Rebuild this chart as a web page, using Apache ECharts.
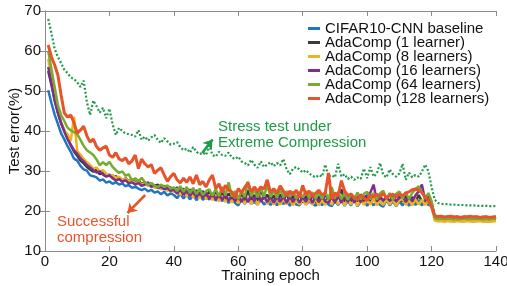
<!DOCTYPE html>
<html>
<head>
<meta charset="utf-8">
<script src="https://cdn.jsdelivr.net/npm/echarts@6/dist/echarts.min.js"></script>
<style>
html,body{margin:0;padding:0;background:#fff;}
#main{width:507px;height:286px;}
</style>
</head>
<body>
<div id="main"></div>
<script>
// test error (%) per training epoch
var baseline = [
50.2,47.0,44.1,41.8,39.4,37.9,36.2,34.8,33.1,32.6,
31.3,30.4,30.1,28.9,28.7,28.4,27.6,27.9,27.1,27.4,
26.8,27.2,26.6,26.9,26.2,26.5,25.8,26.1,25.6,25.2,
25.6,24.9,25.3,24.6,24.9,24.2,24.8,23.9,24.4,24.0,
23.2,24.4,23.1,24.2,22.9,24.0,22.7,23.9,22.8,23.4,
22.9,23.7,22.6,23.5,22.5,23.3,22.0,23.2,22.0,21.4,
23.0,21.8,23.2,21.8,22.3,21.6,22.9,21.6,22.6,21.5,
22.8,21.4,23.0,21.7,22.7,21.3,22.8,21.6,21.4,22.9,
21.7,22.4,21.8,21.3,22.6,21.4,22.8,21.6,21.2,22.6,
21.5,22.7,21.3,22.5,21.4,22.8,21.2,22.4,22.7,21.3,
22.5,21.4,22.6,21.5,21.1,22.7,21.4,22.5,21.2,22.4,
21.4,22.6,21.3,22.4,21.5,22.7,21.4,22.5,21.5,21.5,
18.3,18.0,18.2,17.9,18.1,18.0,17.8,18.1,17.9,18.0,
18.1,17.8,18.0,17.9,18.1,17.8,18.0,17.9,18.0,17.9];

var learner1 = [
55.0,51.5,47.8,44.6,41.9,40.2,38.1,36.4,34.9,33.8,
32.6,31.9,31.0,30.4,29.8,30.3,29.2,29.6,28.8,29.1,
28.3,28.7,28.0,27.6,28.2,27.4,27.9,27.2,27.6,26.8,
27.1,26.5,26.9,26.2,26.6,25.8,26.3,25.5,25.9,25.2,
25.9,24.6,25.6,24.2,25.4,24.0,25.2,23.9,25.0,23.6,
24.8,23.4,24.9,23.2,24.6,23.0,24.4,22.8,24.5,22.7,
24.2,22.6,25.2,22.8,24.0,22.5,25.6,22.9,24.1,22.4,
23.9,22.3,24.2,22.6,24.4,22.2,23.8,22.5,24.3,22.1,
23.7,22.4,24.1,22.0,23.6,22.5,24.4,22.2,23.5,22.0,
23.9,25.4,22.3,23.8,22.1,23.6,22.4,24.2,22.2,23.5,
22.0,23.8,22.3,24.1,21.9,23.5,22.2,24.0,22.1,23.6,
22.3,23.9,22.0,23.5,22.2,24.0,22.4,22.1,23.6,21.9,
18.4,18.2,18.5,18.3,18.4,18.2,18.5,18.3,18.2,18.4,
18.3,18.5,18.2,18.4,18.3,18.2,18.4,18.3,18.2,18.3];

var learners8 = [
58.0,53.2,48.5,45.1,42.3,40.0,39.2,37.5,43.6,35.0,
34.1,33.0,32.2,31.5,30.6,30.9,29.8,30.2,29.3,28.7,
29.0,28.2,28.6,27.8,28.1,27.4,27.8,26.9,27.3,26.6,
26.9,26.2,26.6,25.8,26.1,25.4,25.9,25.0,25.5,24.7,
25.6,24.0,25.2,23.6,24.9,23.3,24.6,23.1,24.3,22.9,
24.1,22.7,24.0,22.4,23.8,22.2,23.6,22.1,23.4,21.9,
23.4,21.8,23.3,21.7,23.2,21.6,23.1,23.6,21.7,23.2,
21.6,23.0,21.5,23.1,21.7,22.9,21.4,23.0,21.6,22.9,
21.5,23.1,21.6,22.9,21.4,22.8,21.5,23.0,21.6,23.2,
21.7,22.9,21.4,23.1,21.6,22.8,21.3,23.0,21.5,22.9,
21.6,23.1,21.4,22.8,21.5,23.0,21.6,22.9,21.3,22.7,
23.0,21.5,22.8,21.4,22.9,21.6,22.8,21.5,22.7,21.0,
17.6,17.4,17.5,17.3,17.5,17.4,17.3,17.5,17.4,17.3,
17.5,17.4,17.3,17.4,17.5,17.3,17.4,17.3,17.4,17.5];

var learners16 = [
56.0,52.0,47.5,44.5,42.0,39.8,38.0,36.6,35.2,34.3,
33.2,32.4,31.5,30.9,30.2,29.6,29.9,29.1,28.6,28.9,
28.2,27.6,28.0,27.3,27.7,26.9,27.2,26.6,27.0,26.3,
26.6,27.2,26.0,26.5,25.7,26.1,25.4,25.8,25.0,25.4,
24.3,25.6,24.0,25.3,23.7,25.0,23.4,24.8,23.2,24.6,
23.0,24.5,22.8,24.3,22.7,24.1,22.5,24.0,22.4,23.8,
22.3,23.7,22.2,23.9,22.4,25.2,22.3,23.8,22.2,23.6,
22.1,23.5,22.3,23.8,22.0,23.6,22.2,23.7,22.1,23.5,
22.3,23.8,22.0,23.6,22.2,23.7,22.4,22.0,23.5,22.2,
23.7,22.1,23.5,22.3,23.9,22.1,23.6,22.2,23.5,23.9,
24.6,26.6,22.5,23.3,22.7,23.4,22.6,23.1,22.5,23.3,
23.8,22.2,23.6,22.4,23.9,24.9,26.6,22.6,23.4,22.0,
18.6,18.3,18.5,18.2,18.4,18.6,18.3,18.5,18.2,18.4,
18.6,18.3,18.5,18.4,18.2,18.5,18.3,18.4,18.2,18.4];

var learners64 = [
60.0,55.5,51.0,46.5,44.0,42.5,40.8,40.2,39.7,39.2,
37.8,36.3,35.2,34.6,34.0,32.9,31.4,32.2,31.5,32.3,
31.0,30.2,29.5,29.9,28.8,29.2,27.6,28.2,27.4,28.3,
27.2,26.5,27.0,26.3,25.9,26.6,26.0,26.4,25.6,25.9,
25.0,26.2,24.8,26.0,24.5,25.8,24.2,25.6,24.0,25.0,
25.4,23.8,25.5,23.7,26.0,23.9,27.2,23.6,25.0,22.9,
25.0,23.5,27.4,23.7,25.3,23.4,25.8,23.6,26.6,23.5,
25.1,23.3,25.5,23.4,25.0,23.5,24.9,23.1,24.8,23.4,
25.0,23.2,24.7,23.0,24.6,23.1,24.8,22.9,26.0,23.3,
24.7,23.0,24.5,22.8,24.4,23.0,24.6,22.9,24.3,24.8,
23.1,24.5,22.9,24.4,25.1,23.0,24.5,22.8,24.3,24.9,
23.1,24.7,23.0,24.5,25.4,26.2,24.6,23.1,24.5,22.5,
18.2,18.0,18.1,17.9,18.2,18.0,18.1,17.9,18.0,18.2,
17.9,18.1,18.0,18.2,17.9,18.1,18.0,17.9,18.1,18.0];

var learners128 = [
61.5,58.5,56.5,54.0,49.0,44.5,43.5,44.0,42.0,39.5,
40.2,41.2,38.8,37.2,38.0,36.1,35.2,35.8,36.2,34.0,
33.4,34.6,33.0,32.6,33.3,31.8,32.5,34.0,30.6,33.0,
31.8,31.0,31.6,29.4,30.2,30.8,29.0,27.4,28.6,29.4,
27.8,27.0,28.2,27.2,28.5,26.8,29.0,26.6,27.4,26.0,
27.8,29.0,25.6,26.8,24.6,26.4,25.2,24.8,23.2,25.6,
24.6,25.9,27.0,24.8,26.0,24.9,26.0,25.5,27.8,24.6,
25.6,24.4,26.3,25.0,23.8,25.0,24.0,25.2,23.4,26.4,
24.0,25.0,23.6,24.4,25.2,24.0,24.5,29.5,23.0,24.5,
23.8,27.6,25.0,23.9,24.2,23.4,22.8,24.0,23.2,22.6,
24.0,23.5,24.2,23.6,24.4,23.3,23.8,24.2,23.5,24.3,
23.8,24.5,24.8,25.3,25.5,25.2,24.6,23.6,22.6,21.0,
18.8,18.6,18.7,18.5,18.6,18.7,18.5,18.6,18.4,18.6,
18.5,18.7,18.5,18.6,18.4,18.5,18.6,18.4,18.5,18.6];

var stressTest = [
68.0,64.5,60.5,58.5,57.0,55.3,54.5,53.4,53.0,52.2,
51.0,52.6,47.2,44.0,47.6,46.2,44.6,45.8,43.2,45.6,
41.6,39.0,40.8,40.0,39.4,39.2,39.0,38.6,40.2,37.8,
38.6,37.6,38.4,39.0,37.8,37.0,38.2,37.4,36.6,36.8,
37.2,36.0,35.2,35.6,34.6,36.0,34.8,34.2,34.6,34.0,
36.4,34.0,33.6,34.8,34.0,33.8,34.6,33.4,33.0,33.6,
32.4,32.0,31.4,32.8,31.6,30.8,32.4,31.0,31.6,32.2,
31.2,32.0,31.4,33.0,30.4,29.2,30.6,31.0,30.4,29.6,
30.2,29.4,28.8,28.4,29.0,28.6,31.6,28.6,29.0,28.4,
31.8,28.6,29.2,28.0,28.6,27.8,28.4,28.0,30.6,28.2,
31.0,28.6,29.4,32.0,29.0,28.4,30.4,29.2,28.6,29.4,
31.8,27.8,29.6,28.4,29.0,28.6,29.8,31.6,30.0,26.0,
22.8,22.0,21.8,21.7,21.7,21.6,21.6,21.5,21.5,21.5,
21.4,21.4,21.4,21.3,21.3,21.3,21.3,21.2,21.2,21.2];

var seriesNames = ['CIFAR10-CNN baseline','AdaComp (1 learner)','AdaComp (8 learners)',
  'AdaComp (16 learners)','AdaComp (64 learners)','AdaComp (128 learners)'];
var seriesColors = ['#1f77c4','#3a3a3a','#f0b21e','#7e2f8e','#77ac30','#e8532a'];
var seriesData = [baseline, learner1, learners8, learners16, learners64, learners128];

var xTicks = [0, 140, 20];   // min, max, step
var yTicks = [10, 70, 10];

var FONT = '"Liberation Sans", Arial, sans-serif';

function pairs(arr){
    var out = [];
    for (var i = 0; i < arr.length; i++) out.push([i + 1, arr[i]]);
    return out;
}

var chart = echarts.init(document.getElementById('main'));

var series = [];
// stress test line, dotted, drawn under the others
series.push({
    name: 'stress',
    type: 'line',
    data: pairs(stressTest),
    showSymbol: false,
    lineStyle: {color: '#1f9a48', width: 2.2, type: [2, 2]},
    z: 1,
    markLine: {
        silent: true,
        symbol: ['none', 'arrow'],
        symbolSize: 9,
        label: {show: false},
        lineStyle: {color: '#1f9a48', width: 2.5, type: 'solid'},
        data: [[{coord: [48.8, 34.5]}, {coord: [52.0, 37.9]}]]
    }
});
for (var k = 0; k < seriesData.length; k++) {
    var s = {
        name: seriesNames[k],
        type: 'line',
        data: pairs(seriesData[k]),
        showSymbol: false,
        lineStyle: {color: seriesColors[k], width: k == 5 ? 3 : 2.5},
        itemStyle: {color: seriesColors[k]},
        z: 2 + k
    };
    if (k == 5) {
        s.markLine = {
            silent: true,
            symbol: ['none', 'arrow'],
            symbolSize: 9,
            label: {show: false},
            lineStyle: {color: '#e8532a', width: 2.5, type: 'solid'},
            data: [[{coord: [31.1, 24.0]}, {coord: [25.6, 19.5]}]]
        };
    }
    series.push(s);
}

var option = {
    animation: false,
    textStyle: {fontFamily: FONT},
    grid: {left: 45, right: 11, top: 11, bottom: 35, containLabel: false, outerBoundsMode: 'none'},
    legend: {
        data: seriesNames,
        orient: 'vertical',
        left: 308,
        top: 21,
        padding: 0,
        itemWidth: 12,
        itemHeight: 3,
        itemGap: -1,
        icon: 'rect',
        textStyle: {fontSize: 15, color: '#111', fontFamily: FONT}
    },
    xAxis: [{
        type: 'value', min: xTicks[0], max: xTicks[1], interval: xTicks[2],
        name: 'Training epoch', nameLocation: 'middle', nameGap: 17, nameMoveOverlap: false,
        nameTextStyle: {fontSize: 15, color: '#111'},
        axisLine: {lineStyle: {color: '#8a8a8a', width: 1}},
        axisTick: {inside: true, length: 5, lineStyle: {color: '#8a8a8a'}},
        axisLabel: {fontSize: 15, color: '#111', margin: 3},
        splitLine: {show: false}
    }, {
        type: 'value', position: 'top', min: xTicks[0], max: xTicks[1], interval: xTicks[2],
        axisLine: {show: true, lineStyle: {color: '#8a8a8a', width: 1}},
        axisTick: {inside: true, length: 5, lineStyle: {color: '#8a8a8a'}},
        axisLabel: {show: false},
        splitLine: {show: false}
    }],
    yAxis: [{
        type: 'value', min: yTicks[0], max: yTicks[1], interval: yTicks[2],
        name: 'Test error(%)', nameLocation: 'middle', nameGap: 23, nameMoveOverlap: false,
        nameTextStyle: {fontSize: 15, color: '#111'},
        axisLine: {show: true, lineStyle: {color: '#8a8a8a', width: 1}},
        axisTick: {show: true, inside: true, length: 5, lineStyle: {color: '#8a8a8a'}},
        axisLabel: {fontSize: 15, color: '#111', margin: 4},
        splitLine: {show: false}
    }, {
        type: 'value', position: 'right', min: yTicks[0], max: yTicks[1], interval: yTicks[2],
        axisLine: {show: true, lineStyle: {color: '#8a8a8a', width: 1}},
        axisTick: {show: true, inside: true, length: 5, lineStyle: {color: '#8a8a8a'}},
        axisLabel: {show: false},
        splitLine: {show: false}
    }],
    graphic: [
        {type: 'text', left: 218, top: 119, style: {text: 'Stress test under\nExtreme Compression',
            fill: '#1f9a48', font: '15px ' + FONT, lineHeight: 16}},
        {type: 'text', left: 57, top: 214, style: {text: 'Successful\ncompression',
            fill: '#e8532a', font: '15px ' + FONT, lineHeight: 16}}
    ],
    series: series
};
chart.setOption(option);
</script>
</body>
</html>
